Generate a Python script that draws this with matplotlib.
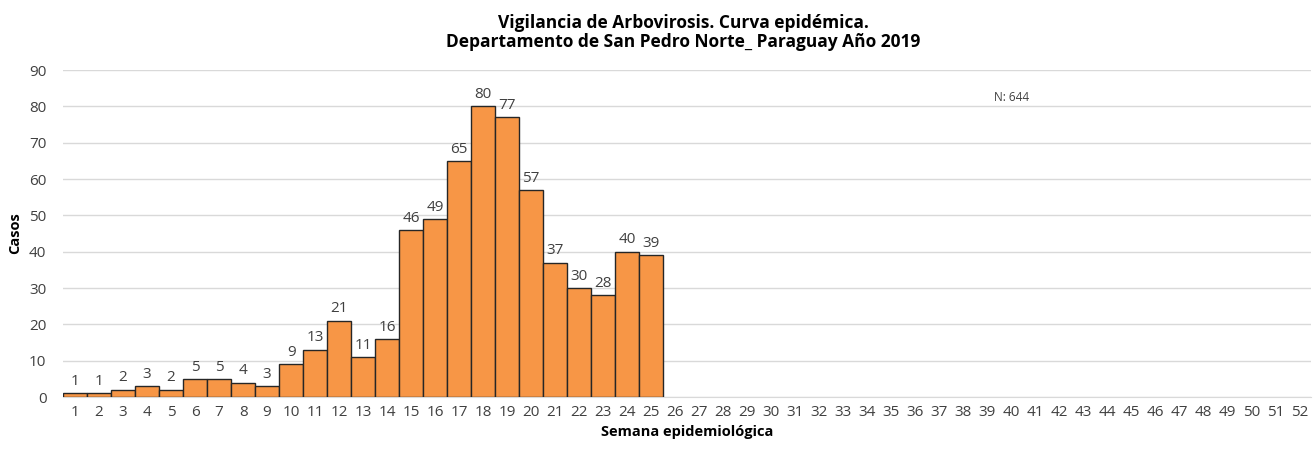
import matplotlib.pyplot as plt
import numpy as np

plt.rcParams['font.family'] = ['Open Sans', 'DejaVu Sans']

# weeks 1-52, data only up to week 25
semanas = list(range(1, 53))
casos = [1, 1, 2, 3, 2, 5, 5, 4, 3, 9, 13, 21, 11, 16, 46, 49, 65, 80, 77, 57,
         37, 30, 28, 40, 39]

fig = plt.figure(figsize=(13.14, 4.58), dpi=100)
ax = fig.add_axes([0.048, 0.133, 0.95, 0.714])

x = np.arange(1, len(casos) + 1)
bars = ax.bar(x, casos, width=1.0, color='#F79646', edgecolor='#262626', linewidth=1.0, zorder=3)
for xi, v in zip(x, casos):
    ax.text(xi, v + 1.2, str(v), ha='center', va='bottom', fontsize=11, color='#404040')

ax.set_xlim(0.5, 52.5)
ax.set_ylim(0, 90)
ax.set_yticks(range(0, 91, 10))
ax.set_xticks(semanas)
ax.tick_params(axis='both', length=0, labelsize=11, colors='#404040')
ax.tick_params(axis='x', pad=6)
ax.tick_params(axis='y', pad=12)
ax.grid(axis='y', color='#D9D9D9', linewidth=1.0, zorder=0)
for s in ['top', 'right', 'left']:
    ax.spines[s].set_visible(False)
ax.spines['bottom'].set_color('#D9D9D9')

ax.set_xlabel('Semana epidemiológica', fontsize=10.5, fontweight='bold', labelpad=3)
ax.set_ylabel('Casos', fontsize=10.5, fontweight='bold', labelpad=5)

fig.text(0.52, 0.97, 'Vigilancia de Arbovirosis. Curva epidémica.\nDepartamento de San Pedro Norte_ Paraguay Año 2019',
         ha='center', va='top', fontsize=12.5, fontweight='bold', linespacing=1.1)
ax.text(40.0, 82.5, 'N: 644', ha='center', va='center', fontsize=8.5, color='#404040')

fig.savefig('out.png', dpi=100)
